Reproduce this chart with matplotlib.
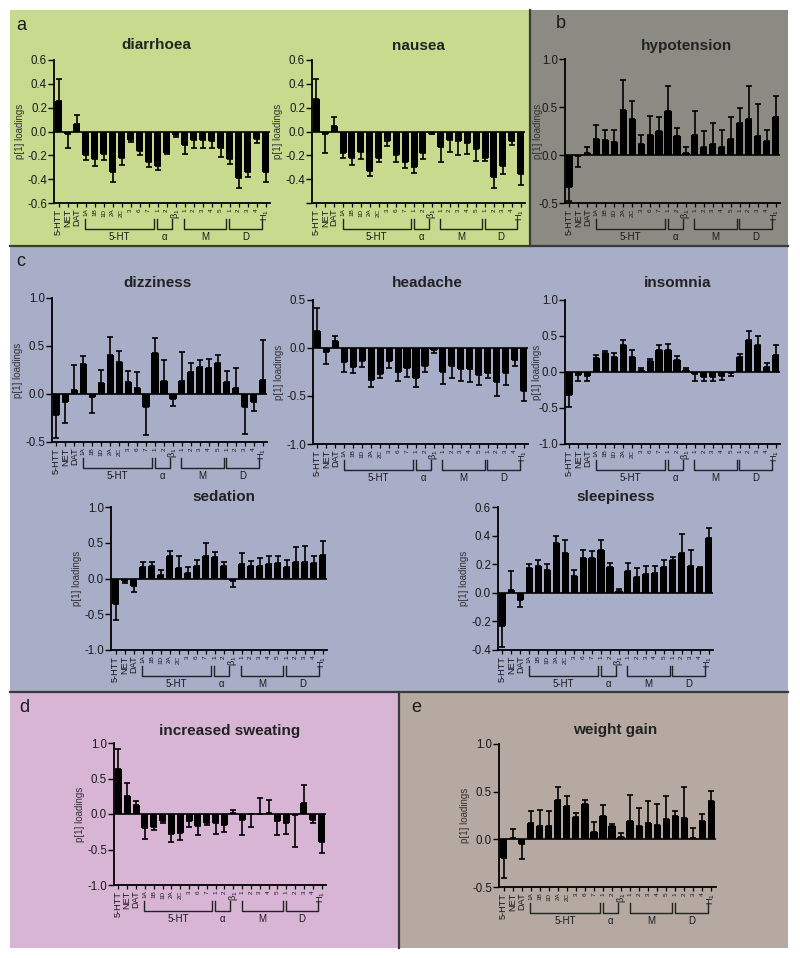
import matplotlib
matplotlib.use('Agg')
import matplotlib.pyplot as plt
from matplotlib.patches import Rectangle
from matplotlib.lines import Line2D
import numpy as np

plt.rcParams['font.family'] = ['Liberation Sans', 'DejaVu Sans']
plt.rcParams['mathtext.fontset'] = 'custom'
plt.rcParams['mathtext.rm'] = 'Liberation Sans'
plt.rcParams['mathtext.it'] = 'Liberation Sans'
plt.rcParams['mathtext.default'] = 'regular'
plt.rcParams['axes.unicode_minus'] = False

# ---------------- data ----------------
categories = ['5-HTT', 'NET', 'DAT', '1A', '1B', '1D', '2A', '2C', '3', '6', '7',
              '1', '2', r'$\beta_1$', '1', '2', '3', '4', '5', '1', '2', '3', '4', r'$H_1$']
big_labels = ['5-HTT', 'NET', 'DAT', r'$\beta_1$', r'$H_1$']
groups = [('5-HT', 3, 10), ('α', 11, 12), ('M', 14, 18), ('D', 19, 22)]

diarrhoea_vals = [0.26, -0.02, 0.06, -0.20, -0.23, -0.19, -0.34, -0.22, -0.07, -0.16, -0.26, -0.29,
                  -0.18, -0.03, -0.11, -0.07, -0.07, -0.08, -0.14, -0.23, -0.39, -0.34, -0.06, -0.34]
diarrhoea_err = [0.18, 0.12, 0.08, 0.04, 0.06, 0.05, 0.08, 0.06, 0.02, 0.04, 0.04, 0.03,
                 0.01, 0.02, 0.08, 0.07, 0.07, 0.06, 0.07, 0.04, 0.08, 0.04, 0.04, 0.08]

nausea_vals = [0.27, -0.02, 0.05, -0.18, -0.22, -0.17, -0.33, -0.22, -0.08, -0.20, -0.26, -0.30,
               -0.18, -0.02, -0.13, -0.07, -0.08, -0.10, -0.15, -0.22, -0.38, -0.29, -0.08, -0.36]
nausea_err = [0.17, 0.16, 0.07, 0.04, 0.06, 0.06, 0.04, 0.04, 0.04, 0.06, 0.05, 0.05,
              0.05, 0.005, 0.13, 0.10, 0.12, 0.09, 0.10, 0.03, 0.09, 0.07, 0.03, 0.09]

hypotension_vals = [-0.33, -0.01, 0.02, 0.17, 0.16, 0.14, 0.47, 0.38, 0.11, 0.21, 0.25, 0.46,
                    0.20, 0.02, 0.21, 0.08, 0.11, 0.08, 0.17, 0.33, 0.38, 0.20, 0.15, 0.40]
hypotension_err = [0.15, 0.11, 0.06, 0.14, 0.10, 0.12, 0.31, 0.18, 0.10, 0.20, 0.15, 0.26,
                   0.08, 0.06, 0.25, 0.17, 0.22, 0.18, 0.23, 0.16, 0.34, 0.33, 0.11, 0.21]

dizziness_vals = [-0.22, -0.08, 0.04, 0.31, -0.03, 0.11, 0.41, 0.33, 0.13, 0.06, -0.14, 0.43,
                  0.14, -0.05, 0.14, 0.23, 0.28, 0.27, 0.32, 0.13, 0.06, -0.14, -0.08, 0.15]
dizziness_err = [0.24, 0.22, 0.26, 0.09, 0.17, 0.14, 0.18, 0.12, 0.11, 0.17, 0.29, 0.15,
                 0.21, 0.07, 0.30, 0.09, 0.07, 0.09, 0.09, 0.11, 0.21, 0.28, 0.10, 0.41]

headache_vals = [0.18, -0.04, 0.07, -0.15, -0.20, -0.14, -0.33, -0.27, -0.14, -0.25, -0.21, -0.31,
                 -0.19, -0.02, -0.25, -0.19, -0.22, -0.22, -0.28, -0.26, -0.35, -0.26, -0.13, -0.45]
headache_err = [0.24, 0.13, 0.05, 0.10, 0.06, 0.06, 0.08, 0.04, 0.07, 0.09, 0.09, 0.10,
                0.06, 0.03, 0.12, 0.12, 0.12, 0.13, 0.11, 0.05, 0.15, 0.13, 0.06, 0.10]

insomnia_vals = [-0.32, -0.04, -0.05, 0.19, 0.27, 0.21, 0.37, 0.21, 0.03, 0.15, 0.30, 0.30,
                 0.17, 0.03, -0.03, -0.07, -0.07, -0.06, -0.01, 0.21, 0.45, 0.38, 0.07, 0.24]
insomnia_err = [0.16, 0.09, 0.07, 0.04, 0.02, 0.06, 0.08, 0.09, 0.03, 0.03, 0.08, 0.09,
                0.05, 0.03, 0.09, 0.05, 0.06, 0.05, 0.05, 0.04, 0.12, 0.12, 0.05, 0.13]

sedation_vals = [-0.36, -0.03, -0.10, 0.16, 0.17, 0.05, 0.31, 0.15, 0.08, 0.18, 0.31, 0.30,
                 0.18, -0.03, 0.20, 0.17, 0.17, 0.20, 0.21, 0.16, 0.23, 0.23, 0.21, 0.33]
sedation_err = [0.22, 0.03, 0.09, 0.07, 0.06, 0.07, 0.07, 0.17, 0.08, 0.08, 0.18, 0.07,
                0.05, 0.09, 0.16, 0.07, 0.12, 0.11, 0.10, 0.10, 0.21, 0.23, 0.10, 0.19]

sleepiness_vals = [-0.23, 0.02, -0.05, 0.17, 0.19, 0.16, 0.35, 0.28, 0.12, 0.24, 0.24, 0.30,
                   0.18, 0.01, 0.15, 0.11, 0.13, 0.14, 0.18, 0.23, 0.28, 0.19, 0.17, 0.38]
sleepiness_err = [0.15, 0.13, 0.05, 0.03, 0.04, 0.04, 0.05, 0.09, 0.04, 0.06, 0.05, 0.07,
                  0.03, 0.02, 0.06, 0.06, 0.06, 0.05, 0.05, 0.02, 0.13, 0.11, 0.01, 0.07]

sweating_vals = [0.64, 0.25, 0.12, -0.20, -0.19, -0.10, -0.28, -0.27, -0.10, -0.17, -0.12, -0.12,
                 -0.16, 0.02, -0.08, -0.005, 0.005, 0.01, -0.10, -0.12, -0.01, 0.16, -0.08, -0.39]
sweating_err = [0.28, 0.19, 0.07, 0.15, 0.04, 0.03, 0.11, 0.09, 0.08, 0.13, 0.03, 0.16,
                0.10, 0.03, 0.22, 0.185, 0.215, 0.19, 0.19, 0.16, 0.45, 0.25, 0.05, 0.16]

weight_vals = [-0.20, 0.01, -0.05, 0.17, 0.14, 0.14, 0.41, 0.35, 0.23, 0.37, 0.08, 0.25,
               0.14, 0.02, 0.19, 0.14, 0.17, 0.15, 0.21, 0.25, 0.22, 0.01, 0.19, 0.40]
weight_err = [0.21, 0.10, 0.16, 0.13, 0.17, 0.16, 0.14, 0.10, 0.05, 0.04, 0.10, 0.11,
              0.02, 0.05, 0.28, 0.19, 0.23, 0.22, 0.24, 0.05, 0.33, 0.11, 0.08, 0.11]

# ---------------- layout ----------------
W, H = 800, 958
fig = plt.figure(figsize=(W / 100, H / 100), dpi=100)
fig.patch.set_facecolor('white')

def fr(x0, y0, x1, y1):
    return [x0 / W, 1 - y1 / H, (x1 - x0) / W, (y1 - y0) / H]

# panel backgrounds
panels = [((10, 10, 530, 246), '#c7da8d'),
          ((530, 10, 788, 246), '#8b8b84'),
          ((10, 246, 788, 692), '#a8adc8'),
          ((10, 692, 399, 948), '#d8b5d5'),
          ((399, 692, 788, 948), '#b5a9a1')]
for (x0, y0, x1, y1), c in panels:
    fig.add_artist(Rectangle((x0 / W, 1 - y1 / H), (x1 - x0) / W, (y1 - y0) / H,
                             transform=fig.transFigure, facecolor=c, edgecolor='none', zorder=-5))
border = '#3a3a3a'
for (x0, y0, x1, y1) in [(10, 246, 788, 246), (530, 10, 530, 246),
                         (10, 692, 788, 692), (399, 692, 399, 948)]:
    fig.add_artist(Line2D([x0 / W, x1 / W], [1 - y0 / H, 1 - y1 / H], transform=fig.transFigure,
                          color=border, lw=1.6, zorder=-4))

for letter, (x, y) in zip('abcde', [(21, 26), (561, 24), (21, 262), (24, 708), (416, 708)]):
    fig.text(x / W, 1 - y / H, letter, fontsize=13, ha='center', va='center', color='#1a1a1a')

# label_off: None = automatic placement, else right edge of y-label in px from axis
charts = [
    ('diarrhoea', diarrhoea_vals, diarrhoea_err, (54, 60, 270, 203), (-0.6, 0.6), np.arange(-0.6, 0.61, 0.2), True, (156, 45), None),
    ('nausea', nausea_vals, nausea_err, (312, 60, 525, 203), (-0.6, 0.6), np.arange(-0.6, 0.61, 0.2), False, (418, 46), None),
    ('hypotension', hypotension_vals, hypotension_err, (565, 59, 780, 203), (-0.5, 1.0), np.arange(-0.5, 1.01, 0.5), True, (686, 46), -22),
    ('dizziness', dizziness_vals, dizziness_err, (52, 298, 267, 442), (-0.5, 1.0), np.arange(-0.5, 1.01, 0.5), True, (158, 283), None),
    ('headache', headache_vals, headache_err, (313, 300, 528, 444), (-1.0, 0.5), np.arange(-1.0, 0.51, 0.5), True, (427, 283), None),
    ('insomnia', insomnia_vals, insomnia_err, (565, 300, 780, 444), (-1.0, 1.0), np.arange(-1.0, 1.01, 0.5), True, (678, 283), -23),
    ('sedation', sedation_vals, sedation_err, (111, 507, 327, 650), (-1.0, 1.0), np.arange(-1.0, 1.01, 0.5), True, (224, 497), None),
    ('sleepiness', sleepiness_vals, sleepiness_err, (498, 507, 713, 650), (-0.4, 0.6), np.arange(-0.4, 0.61, 0.2), True, (616, 497), None),
    ('increased sweating', sweating_vals, sweating_err, (114, 743, 326, 885), (-1.0, 1.0), np.arange(-1.0, 1.01, 0.5), True, (230, 731), None),
    ('weight gain', weight_vals, weight_err, (499, 744, 716, 887), (-0.5, 1.0), np.arange(-0.5, 1.01, 0.5), True, (615, 730), None),
]

txt = '#1a1a1a'
for title, vals, errs, (L, T, R, B), ylim, yticks, show_bottom, (tx, ty), lab_off in charts:
    ax = fig.add_axes(fr(L, T, R, B))
    ax.set_facecolor('none')
    vals = np.asarray(vals)
    errs = np.asarray(errs)
    x = np.arange(len(categories))
    ax.bar(x, vals, width=0.8, color='black', zorder=2)
    lower = np.where(vals < 0, errs, 0)
    upper = np.where(vals >= 0, errs, 0)
    ax.errorbar(x, vals, yerr=[lower, upper], fmt='none', ecolor='black', elinewidth=1.2,
                capsize=2.4, capthick=1.2, zorder=3)
    ax.axhline(0, color='black', lw=1.2, zorder=1)
    ax.set_xlim(-0.5, len(categories) - 0.5)
    ax.set_ylim(*ylim)
    ax.set_yticks(yticks)
    ylabels = ['%.1f' % v for v in yticks]
    if not show_bottom:
        ylabels[0] = ''
    ax.set_yticklabels(ylabels, fontsize=8.3, color=txt)
    ax.set_xticks(x)
    ax.set_xticklabels(categories, rotation=90, color=txt)
    for lab, cat in zip(ax.get_xticklabels(), categories):
        lab.set_fontsize(6.6 if cat in big_labels else 4.6)
    ax.tick_params(axis='x', length=3, width=0.9, pad=1)
    ax.tick_params(axis='y', length=4, width=1.0, pad=1)
    for s in ['top', 'right']:
        ax.spines[s].set_visible(False)
    for s in ['left', 'bottom']:
        ax.spines[s].set_linewidth(1.3)
    hpx = B - T
    wpx = R - L
    ax.set_ylabel('p[1] loadings', fontsize=7, color='#333333', labelpad=1.5)
    if lab_off is not None:
        ax.yaxis.set_label_coords(lab_off / wpx, 0.5)
    # group brackets
    trans = ax.get_xaxis_transform()
    for name, i0, i1 in groups:
        x0, x1 = i0 - 0.05, i1 + 0.65
        ax.add_line(Line2D([x0, x0, x1, x1], [-16 / hpx, -26 / hpx, -26 / hpx, -16 / hpx],
                           transform=trans, color='#222222', lw=1.0, clip_on=False))
        ax.text((x0 + x1) / 2, -34 / hpx, name, transform=trans, ha='center', va='center',
                fontsize=7, color=txt, clip_on=False)
    fig.text(tx / W, 1 - ty / H, title, fontsize=11, fontweight='bold', ha='center',
             va='center', color='#222222')

fig.savefig('out.png', dpi=100)
